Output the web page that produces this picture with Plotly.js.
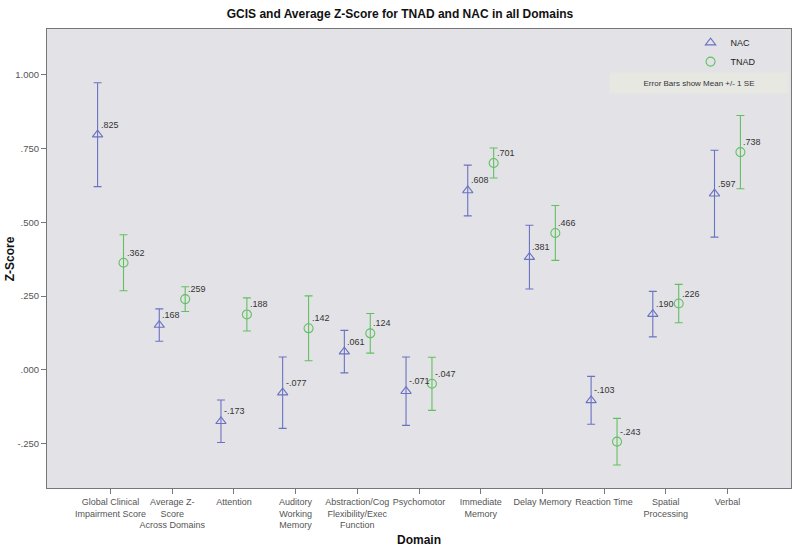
<!DOCTYPE html>
<html>
<head>
<meta charset="utf-8">
<script src="https://cdn.plot.ly/plotly-3.0.1.min.js"></script>
<style>html,body{margin:0;padding:0;background:#fff;}#chart{width:800px;height:550px;}</style>
</head>
<body>
<div id="chart"></div>
<script>
const categories = ["Global Clinical<br>Impairment Score", "Average Z-<br>Score<br>Across Domains", "Attention",
  "Auditory<br>Working<br>Memory", "Abstraction/Cog<br>Flexibility/Exec<br>Function", "Psychomotor",
  "Immediate<br>Memory", "Delay Memory", "Reaction Time", "Spatial<br>Processing", "Verbal"];
const nacMean  = [0.797, 0.152, -0.174, -0.077, 0.062, -0.072, 0.608, 0.382, -0.103, 0.189, 0.597];
const nacSE    = [0.176, 0.055, 0.072, 0.121, 0.072, 0.116, 0.086, 0.108, 0.081, 0.077, 0.147];
const tnadMean = [0.363, 0.240, 0.188, 0.141, 0.124, -0.047, 0.701, 0.464, -0.243, 0.225, 0.738];
const tnadSE   = [0.095, 0.042, 0.056, 0.110, 0.067, 0.090, 0.051, 0.093, 0.079, 0.065, 0.124];
const nacLabels  = [".825", ".168", "-.173", "-.077", ".061", "-.071", ".608", ".381", "-.103", ".190", ".597"];
const tnadLabels = [".362", ".259", ".188", ".142", ".124", "-.047", ".701", ".466", "-.243", ".226", ".738"];
const yTickVals = [-0.25, 0, 0.25, 0.5, 0.75, 1.0];
const yTickText = ["-.250", ".000", ".250", ".500", ".750", "1.000"];

const FONT = "'Liberation Sans', Arial, sans-serif";
const NAC_COLOR = "#6a72c2";
const TNAD_COLOR = "#62c062";
const OFF = 0.21;

const idx = categories.map((_, i) => i);
const nacX = idx.map(i => i - OFF);
const tnadX = idx.map(i => i + OFF);

const traces = [
  {
    type: "scatter", mode: "markers", name: "NAC", x: nacX, y: nacMean,
    marker: {symbol: "triangle-up-open", size: 9, color: NAC_COLOR, line: {width: 1.1, color: NAC_COLOR}},
    error_y: {type: "data", array: nacSE, visible: true, color: NAC_COLOR, thickness: 1.1, width: 4},
    hoverinfo: "skip"
  },
  {
    type: "scatter", mode: "markers", name: "TNAD", x: tnadX, y: tnadMean,
    marker: {symbol: "circle-open", size: 9, color: TNAD_COLOR, line: {width: 1.1, color: TNAD_COLOR}},
    error_y: {type: "data", array: tnadSE, visible: true, color: TNAD_COLOR, thickness: 1.1, width: 4},
    hoverinfo: "skip"
  }
];

const annotations = [];
idx.forEach(i => {
  annotations.push({x: nacX[i], y: nacMean[i], xref: "x", yref: "y", text: nacLabels[i], showarrow: false,
    xanchor: "left", yanchor: "middle", xshift: 1, yshift: 10, font: {family: FONT, size: 9, color: "#333"}});
  annotations.push({x: tnadX[i], y: tnadMean[i], xref: "x", yref: "y", text: tnadLabels[i], showarrow: false,
    xanchor: "left", yanchor: "middle", xshift: 1, yshift: 10, font: {family: FONT, size: 9, color: "#333"}});
});
annotations.push({
  x: 0.876, y: 0.882, xref: "paper", yref: "paper", text: "Error Bars show Mean +/- 1 SE", showarrow: false,
  xanchor: "center", yanchor: "middle", width: 174, height: 16, borderpad: 2, bgcolor: "#e8e8e3",
  font: {family: FONT, size: 8, color: "#333"}
});
annotations.push({
  x: 0.5, y: -0.113, xref: "paper", yref: "paper", text: "<b>Domain</b>", showarrow: false,
  xanchor: "center", yanchor: "middle", font: {family: FONT, size: 12, color: "#111"}
});
annotations.push({
  x: -0.05, y: 0.5, xref: "paper", yref: "paper", text: "<b>Z-Score</b>", showarrow: false, textangle: -90,
  xanchor: "center", yanchor: "middle", font: {family: FONT, size: 12, color: "#111"}
});

const layout = {
  width: 800, height: 550,
  margin: {l: 47, r: 9, t: 29, b: 62},
  paper_bgcolor: "#ffffff",
  plot_bgcolor: "#e3e3e7",
  font: {family: FONT, color: "#333"},
  title: {text: "<b>GCIS and Average Z-Score for TNAD and NAC in all Domains</b>", x: 0.5, xanchor: "center",
    y: 0.975, yanchor: "middle", font: {family: FONT, size: 12, color: "#111"}},
  xaxis: {
    range: [-1.03, 11.03], tickmode: "array", tickvals: idx, ticktext: categories, tickangle: 0,
    ticks: "outside", ticklen: 5, tickcolor: "#777", showgrid: false, zeroline: false,
    showline: true, linecolor: "#777", linewidth: 1, mirror: true,
    tickfont: {family: FONT, size: 9, color: "#555"}
  },
  yaxis: {
    range: [-0.40, 1.155], tickmode: "array", tickvals: yTickVals, ticktext: yTickText,
    ticks: "outside", ticklen: 5, tickcolor: "#777", showgrid: false, zeroline: false,
    showline: true, linecolor: "#777", linewidth: 1, mirror: true,
    tickfont: {family: FONT, size: 9.5, color: "#555"}
  },
  showlegend: true,
  legend: {x: 0.865, y: 1.002, xanchor: "left", yanchor: "top", bgcolor: "rgba(0,0,0,0)",
    font: {family: FONT, size: 9, color: "#222"}, itemwidth: 30, tracegroupgap: 0},
  annotations: annotations
};

Plotly.newPlot("chart", traces, layout, {displayModeBar: false, staticPlot: true});
</script>
</body>
</html>
